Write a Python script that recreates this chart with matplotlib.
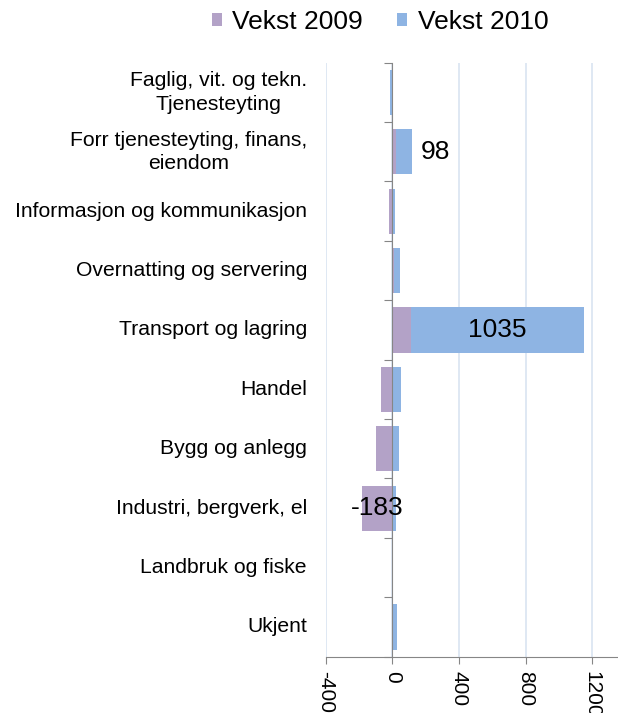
import numpy as np
import matplotlib.pyplot as plt
import matplotlib.transforms as mtransforms

plt.rcParams['font.family'] = ['Liberation Sans', 'DejaVu Sans']

# Categories, top to bottom
categories = [
    "Faglig, vit. og tekn.\nTjenesteyting",
    "Forr tjenesteyting, finans,\neiendom",
    "Informasjon og kommunikasjon",
    "Overnatting og servering",
    "Transport og lagring",
    "Handel",
    "Bygg og anlegg",
    "Industri, bergverk, el",
    "Landbruk og fiske",
    "Ukjent",
]
vekst_2009 = [0, 20, -20, 12, 112, -68, -98, -183, 0, 0]
vekst_2010 = [-16, 98, 16, 32, 1035, 52, 38, 20, 0, 25]
series_names = ["Vekst 2009", "Vekst 2010"]
colors = ["#b3a2c7", "#8eb4e3"]

# labels shown in the chart: (category index, series index, text)
shown_labels = [(1, 1, "98"), (4, 1, "1035"), (7, 0, "-183")]

fig = plt.figure(figsize=(6.18, 7.13), dpi=100)
ax = fig.add_axes([325.7 / 618, 56.3 / 713, 292.3 / 618, 594 / 713])

y = np.arange(len(categories))
pos_base = np.zeros(len(categories))
neg_base = np.zeros(len(categories))
bar_info = {}
for s, vals in enumerate([vekst_2009, vekst_2010]):
    vals = np.array(vals, dtype=float)
    left = np.where(vals >= 0, pos_base, neg_base)
    ax.barh(y, vals, left=left, height=0.76, color=colors[s],
            label=series_names[s], zorder=3)
    for i in range(len(vals)):
        bar_info[(i, s)] = (left[i], vals[i])
    pos_base = pos_base + np.where(vals >= 0, vals, 0)
    neg_base = neg_base + np.where(vals < 0, vals, 0)

for i, s, txt in shown_labels:
    left, w = bar_info[(i, s)]
    if txt == "98":
        xpos = left + w + 138  # placed outside, right of the bar
    else:
        xpos = left + w / 2
    ax.text(xpos, i, txt, ha="center", va="center", fontsize=19, zorder=5)

ax.set_xlim(-400, 1354)
ax.set_ylim(len(categories) - 0.5, -0.5)
ax.set_xticks([-400, 0, 400, 800, 1200])
ax.set_xticklabels(["-400", "0", "400", "800", "1200"], rotation=270,
                   fontsize=15)
ax.xaxis.grid(True, color="#d9e4f1", linewidth=1.2, zorder=0)
ax.tick_params(axis="x", direction="out", length=5, color="#868686", pad=5)

# category axis crossing at zero, ticks between categories
ax.spines["left"].set_position(("data", 0))
ax.spines["left"].set_color("#868686")
ax.spines["left"].set_zorder(4)
ax.spines["bottom"].set_color("#868686")
ax.spines["right"].set_visible(False)
ax.spines["top"].set_visible(False)
ax.set_yticks(np.arange(len(categories) + 1) - 0.5)
ax.set_yticklabels([])
ax.tick_params(axis="y", direction="out", length=6, color="#868686")

trans = mtransforms.blended_transform_factory(fig.transFigure, ax.transData)
for i, c in enumerate(categories):
    ax.text(307 / 618, i, c, transform=trans, ha="right", va="center",
            fontsize=15.2, multialignment="center", linespacing=1.3)

fig.legend(loc="center", bbox_to_anchor=(0.615, 1 - 22 / 713), ncol=2,
           frameon=False, fontsize=19, handlelength=0.38, handleheight=0.38,
           handletextpad=0.4, columnspacing=1.3)

fig.savefig("out.png", dpi=100)
